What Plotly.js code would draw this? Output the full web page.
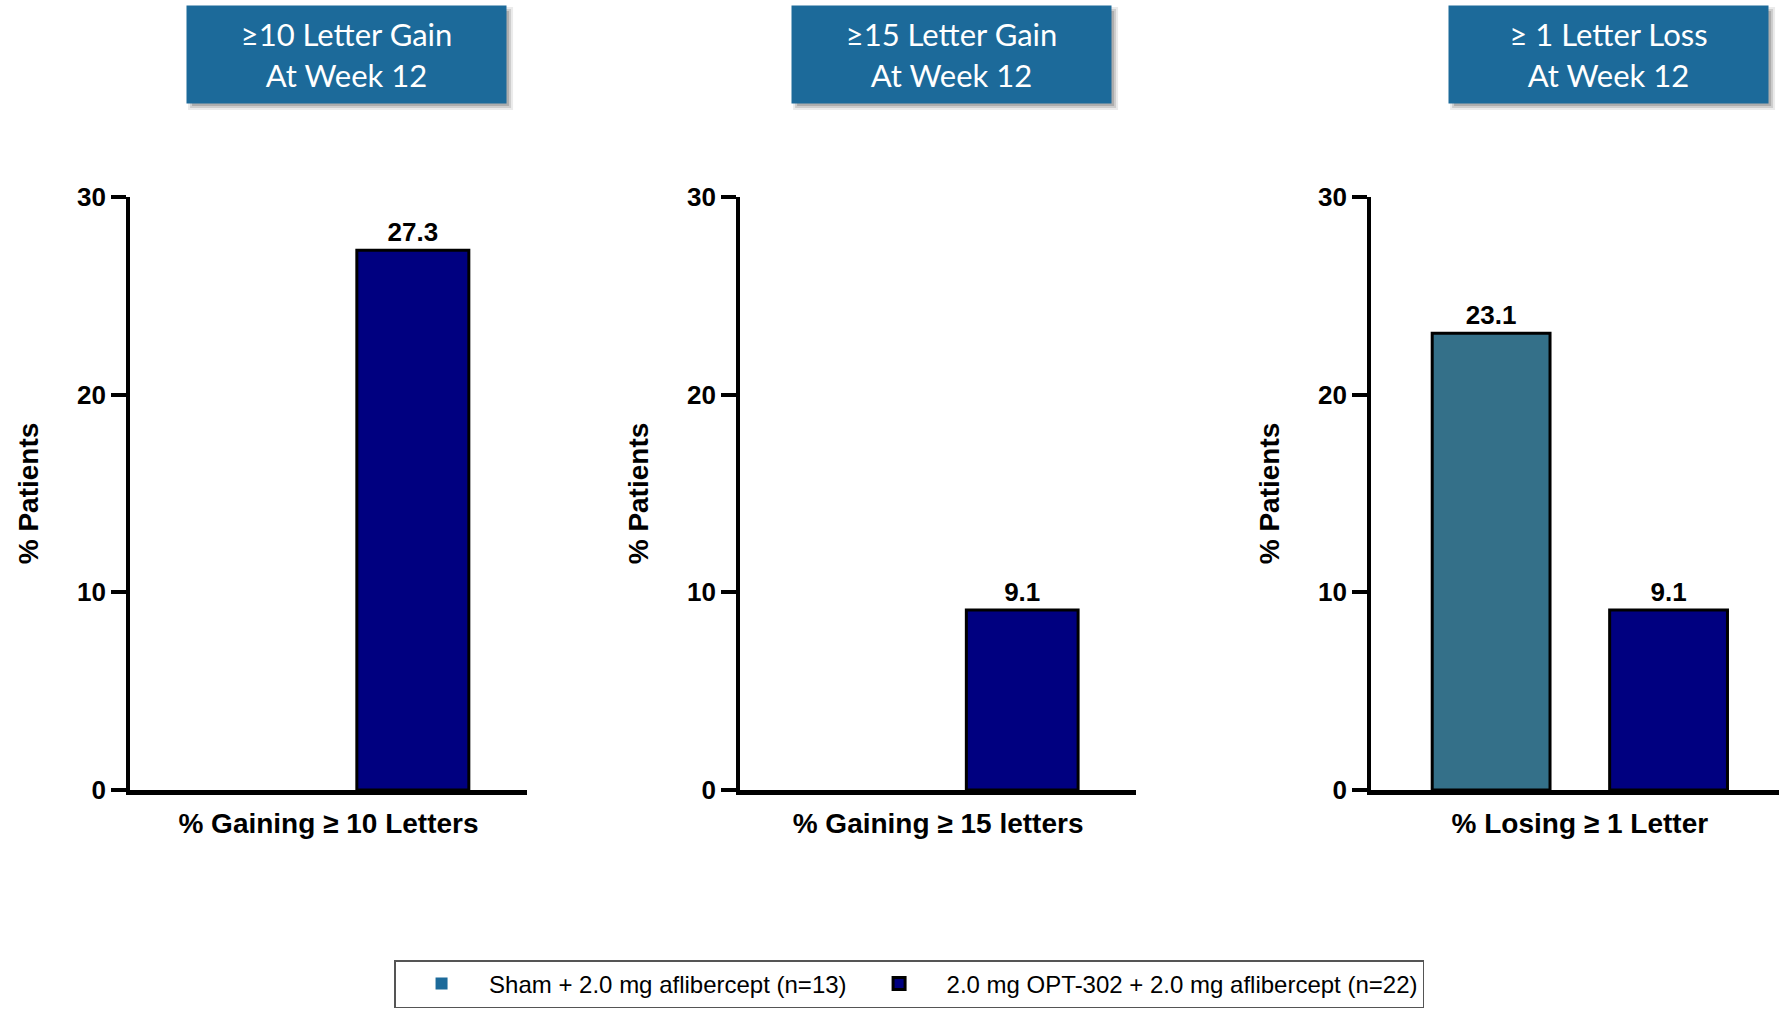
<!DOCTYPE html>
<html>
<head>
<meta charset="utf-8">
<script src="https://cdn.plot.ly/plotly-3.0.1.min.js"></script>
<style>html,body{margin:0;padding:0;background:#fff;}#chart{width:1779px;height:1010px;}</style>
</head>
<body>
<div id="chart"></div>
<script>
// ---- data ----
const panelCategories = ['% Gaining ≥ 10 Letters', '% Gaining ≥ 15 letters', '% Losing ≥ 1 Letter'];
const panelTitles = ['≥10 Letter Gain<br>At Week 12', '≥15 Letter Gain<br>At Week 12', '≥ 1 Letter Loss<br>At Week 12'];
const seriesNames = ['Sham + 2.0 mg aflibercept (n=13)', '2.0 mg OPT-302 + 2.0 mg aflibercept (n=22)'];
const shamValues = [0, 0, 23.1];
const optValues = [27.3, 9.1, 9.1];
const yTickValues = [0, 10, 20, 30];
const yAxisTitle = '% Patients';

// ---- styles ----
const shamColors = ['#1c6a9a', '#1c6a9a', '#347089'];
const optColor = '#000080';
const boxColor = '#1c6a9a';
const xDomains = [[0.0731, 0.2962], [0.4160, 0.6386], [0.7707, 1.0]];
const xRanges = [[-0.5, 0.5], [-0.5, 0.5], [-0.5, 0.477]];
const yDomain = [0.2178, 0.8050];
const titleCenters = [0.1948, 0.5349, 0.9042];
const narrow = '"Liberation Sans Narrow", "Arial Narrow", "Liberation Sans", Arial, sans-serif';
const sans = '"Liberation Sans", Arial, sans-serif';

const fmt = v => v > 0 ? v.toFixed(1) : '';
const outline = v => v > 0 ? 3 : 0;
const traces = [];
const layout = {
  width: 1779, height: 1010,
  margin: {l: 0, r: 0, t: 0, b: 0},
  paper_bgcolor: '#fff', plot_bgcolor: 'rgba(0,0,0,0)',
  barmode: 'group', bargap: 0.15, bargroupgap: 0.336,
  showlegend: true,
  legend: {
    orientation: 'h', x: 0.2215, xanchor: 'left', y: 0.0495, yanchor: 'top',
    bordercolor: '#555', borderwidth: 1.5, bgcolor: '#fff',
    font: {family: sans, size: 24, color: '#000'},
    itemwidth: 85
  },
  annotations: [], shapes: []
};

panelCategories.forEach((cat, i) => {
  const xa = i === 0 ? 'x' : 'x' + (i + 1);
  const ya = i === 0 ? 'y' : 'y' + (i + 1);
  traces.push({
    type: 'bar', x: [cat], y: [shamValues[i]], name: seriesNames[0], legendgroup: 'sham',
    showlegend: i === 0, xaxis: xa, yaxis: ya,
    marker: {color: shamColors[i], line: {color: '#000', width: outline(shamValues[i])}},
    text: [fmt(shamValues[i])], textposition: 'outside', cliponaxis: false,
    textfont: {family: narrow, size: 26, color: '#000', weight: 'bold'}, hoverinfo: 'skip'
  });
  traces.push({
    type: 'bar', x: [cat], y: [optValues[i]], name: seriesNames[1], legendgroup: 'opt',
    showlegend: i === 0, xaxis: xa, yaxis: ya,
    marker: {color: optColor, line: {color: '#000', width: outline(optValues[i])}},
    text: [fmt(optValues[i])], textposition: 'outside', cliponaxis: false,
    textfont: {family: narrow, size: 26, color: '#000', weight: 'bold'}, hoverinfo: 'skip'
  });
  const sfx = i === 0 ? '' : String(i + 1);
  layout['xaxis' + sfx] = {
    domain: xDomains[i], anchor: ya, type: 'category', range: xRanges[i],
    showline: true, linecolor: '#000', linewidth: 5, showgrid: false, zeroline: false,
    ticks: 'outside', ticklen: 4, tickcolor: 'rgba(0,0,0,0)',
    tickfont: {family: sans, size: 28, color: '#000', weight: 'bold'}, fixedrange: true
  };
  layout['yaxis' + sfx] = {
    domain: yDomain, anchor: xa, range: [0, 30], tickvals: yTickValues,
    showline: true, linecolor: '#000', linewidth: 4, showgrid: false, zeroline: false,
    ticks: 'outside', ticklen: 15, tickwidth: 4, tickcolor: '#000',
    tickfont: {family: sans, size: 26, color: '#000', weight: 'bold'},
    title: {text: yAxisTitle, font: {family: sans, size: 28, color: '#000', weight: 'bold'}, standoff: 31},
    fixedrange: true
  };
  // title box with soft shadow
  const bw = 319 / 1779, bh = 97 / 1010, cy = 0.946;
  [[7, 0.08], [5, 0.12], [3, 0.16]].forEach(([o, a]) => {
    layout.shapes.push({
      type: 'rect', xref: 'paper', yref: 'paper', layer: 'below',
      x0: titleCenters[i] - bw / 2 + (8 - o) / 1779, x1: titleCenters[i] + bw / 2 + o / 1779,
      y0: cy - bh / 2 - o / 1010, y1: cy + bh / 2 - (8 - o) / 1010,
      fillcolor: 'rgba(0,0,0,' + a + ')', line: {width: 0}
    });
  });
  layout.annotations.push({
    xref: 'paper', yref: 'paper', x: titleCenters[i], y: cy, xanchor: 'center', yanchor: 'middle',
    text: panelTitles[i], showarrow: false, width: 319, height: 97, borderpad: 0,
    bgcolor: boxColor, font: {family: 'Lato, "Open Sans", sans-serif', size: 31, color: '#fff'}
  });
});

Plotly.newPlot('chart', traces, layout, {staticPlot: true, displayModeBar: false});
</script>
</body>
</html>
